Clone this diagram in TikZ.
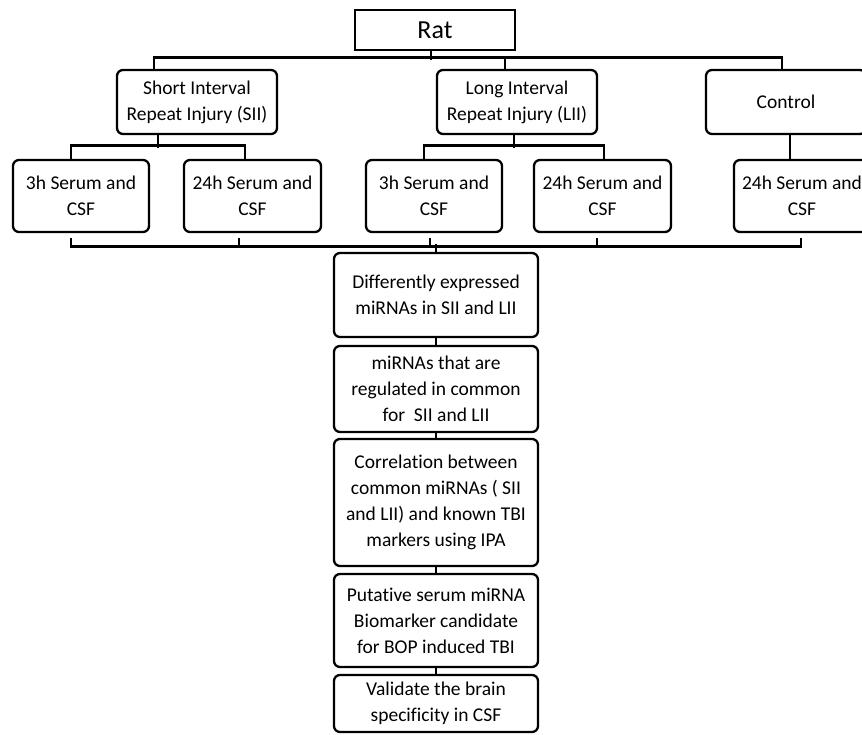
\documentclass[tikz,border=0pt]{standalone}
\usepackage{fontspec}
\setmainfont{Carlito}[Ligatures=NoCommon]
\usetikzlibrary{calc}
\begin{document}
\begin{tikzpicture}[x=1pt,y=-1pt,
  box/.style={draw=black, line width=2.3pt, rounded corners=6pt, align=center, inner sep=0pt,
    font=\fontsize{19.5}{26}\selectfont, fill=white},
  conn/.style={draw=black, line width=2.8pt},
]
\useasboundingbox (0,0) rectangle (862,734);
\fill[white] (0,0) rectangle (862,734);

\node[box, rounded corners=0pt, minimum width=160pt, minimum height=40pt, font=\fontsize{26}{30}\selectfont] (rat) at (435,30) {Rat};

\node[box, minimum width=160pt, minimum height=64pt] (sii) at (197,102) {Short Interval\\Repeat Injury (SII)};
\node[box, minimum width=160pt, minimum height=64pt] (lii) at (517,102) {Long Interval\\Repeat Injury (LII)};
\node[box, minimum width=160pt, minimum height=64pt] (ctrl) at (786,102) {Control};

\node[box, minimum width=136pt, minimum height=72pt] (a1) at (81,196) {3h Serum and\\CSF};
\node[box, minimum width=137pt, minimum height=72pt] (a2) at (252.5,196) {24h Serum and\\CSF};
\node[box, minimum width=136pt, minimum height=72pt] (b1) at (434,196) {3h Serum and\\CSF};
\node[box, minimum width=137pt, minimum height=72pt] (b2) at (602.5,196) {24h Serum and\\CSF};
\node[box, minimum width=136pt, minimum height=72pt] (c1) at (802,196) {24h Serum and\\CSF};

\node[box, minimum width=204pt, minimum height=84pt] (d1) at (436,295) {Differently expressed\\miRNAs in SII and LII};
\node[box, minimum width=204pt, minimum height=86pt] (d2) at (436,389) {miRNAs that are\\regulated in common\\for\ \ SII and LII};
\node[box, minimum width=204pt, minimum height=127pt] (d3) at (436,502.5) {Correlation between\\common miRNAs ( SII\\and LII) and known TBI\\markers using IPA};
\node[box, minimum width=204pt, minimum height=93pt] (d4) at (436,620.5) {Putative serum miRNA\\Biomarker candidate\\for BOP induced TBI};
\node[box, minimum width=204pt, minimum height=57pt] (d5) at (436,703.5) {Validate the brain\\specificity in CSF};

% top level
\draw[conn] ([xshift=-4pt]rat.south) -- ++(0,9);
\draw[conn] ([xshift=-43pt]sii.north) -- ++(0,-11) -| ([xshift=-4pt]ctrl.north);
\draw[conn] ([xshift=-12pt]lii.north) -- ++(0,-11);

% SII children
\draw[conn] ([xshift=-39pt]sii.south) -- ++(0,13);
\draw[conn] ([xshift=-10pt]a1.north) -- ++(0,-13) -| ([xshift=-7.5pt]a2.north);

% LII children
\draw[conn] ([xshift=-3pt]lii.south) -- ++(0,13);
\draw[conn] ([xshift=-10pt]b1.north) -- ++(0,-13) -| ([xshift=1.5pt]b2.north);

% control child
\draw[conn] ([xshift=4pt]ctrl.south) -- ([xshift=-12pt]c1.north);

% bottom bus
\draw[conn] ([xshift=-10pt,yshift=-5pt]a1.south) -- ++(0,8) -| ([xshift=-1pt,yshift=-5pt]c1.south);
\draw[conn] ([xshift=-13.5pt,yshift=-5pt]a2.south) -- ++(0,8);
\draw[conn] ([xshift=-4pt,yshift=-5pt]b1.south) -- ++(0,8);
\draw[conn] ([xshift=-5.5pt,yshift=-5pt]b2.south) -- ++(0,8);
\draw[conn] (d1.north) -- ++(0,-8);

% chain
\draw[conn] (d1.south) -- (d2.north);
\draw[conn] (d2.south) -- (d3.north);
\draw[conn] (d3.south) -- (d4.north);
\draw[conn] (d4.south) -- (d5.north);
\end{tikzpicture}
\end{document}
